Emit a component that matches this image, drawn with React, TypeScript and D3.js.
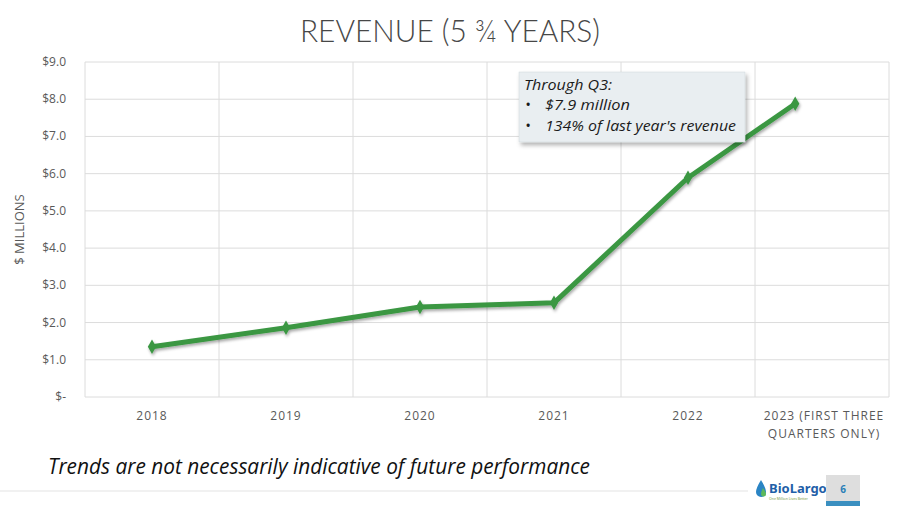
import React from "react";
import * as d3 from "d3";

// Annual revenue in $ millions; 2023 covers the first three quarters only
const years = ["2018", "2019", "2020", "2021", "2022", "2023"];
const categoryLabels = [["2018"], ["2019"], ["2020"], ["2021"], ["2022"], ["2023 (FIRST THREE", "QUARTERS ONLY)"]];
const revenue = [1.35, 1.86, 2.42, 2.53, 5.89, 7.88];
// position of each point along the category axis (index units)
const pointIndex = [0, 1, 2, 3, 4, 4.8];
const yTicks = [0, 1, 2, 3, 4, 5, 6, 7, 8, 9];
const noteLines = ["Through Q3:", "$7.9 million", "134% of last year's revenue"];

const W = 900;
const H = 506;
const plot = { left: 85, right: 889, top: 62, bottom: 397 };

export default function App() {
  const band = d3.scaleBand<string>().domain(years).range([plot.left, plot.right]).padding(0);
  const bw = band.bandwidth();
  const x = d3
    .scaleLinear()
    .domain([0, years.length - 1])
    .range([plot.left + bw / 2, plot.right - bw / 2]);
  const y = d3.scaleLinear().domain([0, 9]).range([plot.bottom, plot.top]);

  const pts = revenue.map((v, i) => [x(pointIndex[i]), y(v)] as [number, number]);
  const line = d3.line()(pts) || "";

  const fmt = (v: number) => (v === 0 ? "$-" : `$${v.toFixed(1)}`);
  const font = "'Open Sans', 'Noto Sans', sans-serif";
  const thin = "Lato, 'Open Sans', sans-serif";

  return (
    <svg width={W} height={H} style={{ position: "absolute", left: 0, top: 0, background: "#fff" }}>
      <defs>
        <filter id="lineShadow" x="-10%" y="-10%" width="120%" height="130%">
          <feDropShadow dx="1" dy="2" stdDeviation="1.5" floodColor="#000" floodOpacity="0.35" />
        </filter>
        <filter id="boxShadow" x="-10%" y="-10%" width="125%" height="140%">
          <feDropShadow dx="2" dy="3" stdDeviation="2" floodColor="#000" floodOpacity="0.3" />
        </filter>
      </defs>

      {/* title */}
      <text x={450} y={42} textAnchor="middle" fontFamily={thin} fontWeight={300} fontSize={32} fill="#474747"
        textLength={300} lengthAdjust="spacingAndGlyphs">
        REVENUE (5 ¾ YEARS)
      </text>

      {/* horizontal gridlines */}
      {yTicks.map((t) => (
        <line key={`h${t}`} x1={plot.left} x2={plot.right} y1={y(t)} y2={y(t)} stroke="#dcdcdc" strokeWidth={1} />
      ))}
      {/* vertical category boundaries */}
      {years.map((c) => (
        <line key={`v${c}`} x1={band(c)!} x2={band(c)!} y1={plot.top} y2={plot.bottom} stroke="#dcdcdc" strokeWidth={1} />
      ))}
      <line x1={plot.right} x2={plot.right} y1={plot.top} y2={plot.bottom} stroke="#dcdcdc" strokeWidth={1} />

      {/* y tick labels */}
      {yTicks.map((t) => (
        <text key={`yl${t}`} x={plot.left - 19} y={y(t) + 4} textAnchor="end" fontFamily={font} fontSize={12} fill="#595959">
          {fmt(t)}
        </text>
      ))}
      <text transform={`translate(24, ${(plot.top + plot.bottom) / 2}) rotate(-90)`} textAnchor="middle"
        fontFamily={font} fontSize={13} fill="#595959">
        $ MILLIONS
      </text>

      {/* x category labels */}
      {categoryLabels.map((lines, i) => (
        <text key={`xl${i}`} y={420} textAnchor="middle" fontFamily={font} fontSize={12} fill="#595959" letterSpacing={1}>
          {lines.map((l, j) => (
            <tspan key={j} x={band(years[i])! + bw / 2 + (lines.length > 1 ? 2 : 0)} dy={j === 0 ? 0 : 18}>
              {l}
            </tspan>
          ))}
        </text>
      ))}

      {/* revenue line */}
      <g filter="url(#lineShadow)">
        <path d={line} fill="none" stroke="#3a9743" strokeWidth={5} strokeLinejoin="round" strokeLinecap="round" />
        {pts.map(([px, py], i) => (
          <path key={`m${i}`} d={d3.symbol(d3.symbolDiamond, 60)() || ""} transform={`translate(${px},${py})`} fill="#3a9743" />
        ))}
      </g>

      {/* annotation box */}
      <g filter="url(#boxShadow)">
        <rect x={519} y={72} width={226} height={70} fill="#e9eef1" stroke="#cfd6da" strokeWidth={0.5} />
      </g>
      <text fontFamily={font} fontSize={15} fontStyle="italic" fill="#1a1a1a">
        <tspan x={524} y={90} textLength={88} lengthAdjust="spacingAndGlyphs">{noteLines[0]}</tspan>
        <tspan x={525} y={110}>•</tspan>
        <tspan x={545} y={110} textLength={85} lengthAdjust="spacingAndGlyphs">{noteLines[1]}</tspan>
        <tspan x={525} y={131}>•</tspan>
        <tspan x={545} y={131} textLength={191} lengthAdjust="spacingAndGlyphs">{noteLines[2]}</tspan>
      </text>

      {/* disclaimer */}
      <text x={48} y={474} fontFamily={font} fontSize={22} fontStyle="italic" fill="#111"
        textLength={542} lengthAdjust="spacingAndGlyphs">
        Trends are not necessarily indicative of future performance
      </text>
      <line x1={0} x2={748} y1={491} y2={491} stroke="#ececec" strokeWidth={1.5} />

      {/* footer logo and page number */}
      <path d="M761 480 q-5 8 -5 12 a5 5 0 0 0 10 0 q0 -4 -5 -12z" fill="#2a84c4" />
      <path d="M763 488 q-2 4 -2 6 a2.5 2.5 0 0 0 5 0 q0 -2 -3 -6z" fill="#5cb85c" />
      <text x={769} y={493} fontFamily="'Noto Sans', sans-serif" fontWeight="bold" fontSize={13} fill="#1f5fa8">BioLargo</text>
      <text x={769} y={500} fontFamily="'Noto Sans', sans-serif" fontSize={3.5} fill="#7a9a3a">One Million Lives Better</text>
      <rect x={826} y={475} width={34} height={26} fill="#dedede" />
      <rect x={826} y={501} width={34} height={5} fill="#3a8fc0" />
      <text x={843} y={493} textAnchor="middle" fontFamily={font} fontSize={10} fontWeight="bold" fill="#2a7fb8">6</text>
    </svg>
  );
}
